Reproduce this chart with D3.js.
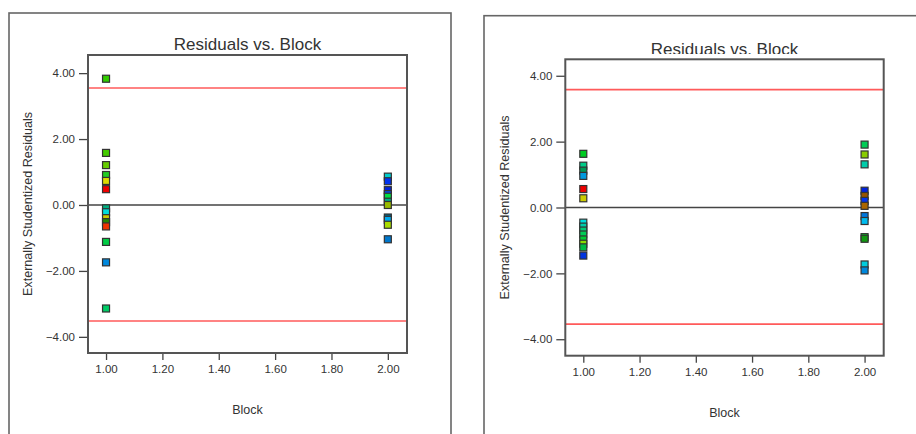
<!DOCTYPE html>
<html>
<head>
<meta charset="utf-8">
<script src="https://cdn.jsdelivr.net/npm/d3@7"></script>
<style>
  body { margin: 0; background: #fff; }
  svg { display: block; font-family: "Liberation Sans", Arial, sans-serif; }
  .axis text { fill: #333; font-size: 11.5px; }
  .axis line { stroke: #444; stroke-width: 1.3; }
</style>
</head>
<body>
<script>
// block numbers and tick values
var blocks = [1, 2];
var xTicks = [1.0, 1.2, 1.4, 1.6, 1.8, 2.0];
var yTicks = [-4, -2, 0, 2, 4];

// left chart: residuals per block
var leftB1 = [3.83, 1.58, 1.21, 0.91, 0.73, 0.48, -0.10, -0.22, -0.40, -0.52, -0.65, -1.12, -1.74, -3.14];
var leftB2 = [0.86, 0.72, 0.45, 0.33, 0.25, 0.10, 0.00, -0.38, -0.45, -0.60, -1.04];
var leftLimits = [3.55, -3.52];

// right chart
var rightB1 = [1.63, 1.27, 1.12, 0.96, 0.56, 0.28, -0.46, -0.58, -0.70, -0.82, -0.97, -1.10, -1.21, -1.46];
var rightB2 = [1.91, 1.61, 1.31, 0.51, 0.35, 0.20, 0.05, -0.26, -0.41, -0.90, -0.95, -1.73, -1.91];
var rightLimits = [3.58, -3.54];

// point colours (kept apart from the values)
var leftC1 = ["#33cc00","#44cc00","#66cc00","#22cc22","#dddd00","#ee0000","#00b080","#00dddd","#cccc00","#228800","#ee3300","#00cc44","#0088dd","#00cc66"];
var leftC2 = ["#00cccc","#0033ee","#0022dd","#0044ee","#00dd44","#00aa88","#99bb00","#006688","#00aaee","#aadd00","#0077cc"];
var rightC1 = ["#00cc22","#00cc88","#009955","#0099dd","#ee0000","#cccc00","#00dddd","#00ccaa","#00cc77","#00cc55","#00cc33","#88dd00","#00bb44","#0033dd"];
var rightC2 = ["#00cc55","#88cc00","#00ccaa","#0022dd","#995500","#0033ee","#aa6600","#0077dd","#00bbee","#00cc22","#119911","#00ccdd","#0088dd"];

var svg = d3.select("body").append("svg").attr("width", 916).attr("height", 434);

function panel(cfg, b1, b2, c1, c2, limits) {
  var g = svg.append("g");

  // outer frame
  g.append("rect")
    .attr("x", cfg.fx).attr("y", cfg.fy).attr("width", cfg.fw).attr("height", 500)
    .attr("fill", "none").attr("stroke", "#666").attr("stroke-width", 1.6);

  var x = d3.scaleLinear().domain([0.936, 2.068]).range([cfg.px, cfg.px + cfg.pw]);
  var y = d3.scaleLinear().domain(cfg.yDom).range([cfg.py + cfg.ph, cfg.py]);

  // title (right one gets cut by the plot box in the original)
  var clipId = "clip" + cfg.id;
  g.append("clipPath").attr("id", clipId).append("rect")
    .attr("x", cfg.fx).attr("y", 0).attr("width", cfg.fw).attr("height", cfg.titleClip);
  g.append("text")
    .attr("clip-path", "url(#" + clipId + ")")
    .attr("x", cfg.px + cfg.pw / 2).attr("y", cfg.titleY)
    .attr("text-anchor", "middle").attr("font-size", "17px").attr("fill", "#333")
    .text("Residuals vs. Block");

  // axes
  var yAxis = d3.axisLeft(y).tickValues(yTicks).tickSize(9).tickPadding(4).tickFormat(d3.format(".2f"));
  var xAxis = d3.axisBottom(x).tickValues(xTicks).tickSize(7).tickPadding(5).tickFormat(d3.format(".2f"));

  var ya = g.append("g").attr("class", "axis").attr("transform", "translate(" + cfg.px + ",0)").call(yAxis);
  ya.select(".domain").remove();
  ya.selectAll("text").attr("font-size", null);
  var xa = g.append("g").attr("class", "axis").attr("transform", "translate(0," + (cfg.py + cfg.ph) + ")").call(xAxis);
  xa.select(".domain").remove();
  xa.selectAll("text").attr("font-size", null);

  // zero line and limit lines
  g.append("line")
    .attr("x1", cfg.px).attr("x2", cfg.px + cfg.pw).attr("y1", y(0)).attr("y2", y(0))
    .attr("stroke", "#444").attr("stroke-width", 1.3);
  g.selectAll("line.limit").data(limits).enter().append("line")
    .attr("class", "limit")
    .attr("x1", cfg.px).attr("x2", cfg.px + cfg.pw)
    .attr("y1", function(d) { return y(d); }).attr("y2", function(d) { return y(d); })
    .attr("stroke", "#ff5a5a").attr("stroke-width", 1.6);

  // plot box
  g.append("rect")
    .attr("x", cfg.px).attr("y", cfg.py).attr("width", cfg.pw).attr("height", cfg.ph)
    .attr("fill", "none").attr("stroke", "#555").attr("stroke-width", 2);

  // points
  var pts = [];
  b1.forEach(function(v, i) { pts.push({ b: blocks[0], v: v, c: c1[i] }); });
  b2.forEach(function(v, i) { pts.push({ b: blocks[1], v: v, c: c2[i] }); });
  g.selectAll("rect.pt").data(pts).enter().append("rect")
    .attr("class", "pt")
    .attr("x", function(d) { return x(d.b) - 3.5; })
    .attr("y", function(d) { return y(d.v) - 3.5; })
    .attr("width", 7).attr("height", 7)
    .attr("fill", function(d) { return d.c; })
    .attr("stroke", "#333").attr("stroke-width", 1.2);

  // axis titles
  g.append("text")
    .attr("transform", "translate(" + cfg.ylX + "," + (cfg.py + cfg.ph / 2) + ") rotate(-90)")
    .attr("text-anchor", "middle").attr("font-size", "12.6px").attr("fill", "#333")
    .text("Externally Studentized Residuals");
  g.append("text")
    .attr("x", cfg.px + cfg.pw / 2).attr("y", cfg.xlY)
    .attr("text-anchor", "middle").attr("font-size", "12.5px").attr("fill", "#333")
    .text("Block");
}

panel({ id: "L", fx: 9, fy: 13, fw: 442, px: 88, py: 55, pw: 319, ph: 298,
        yDom: [-4.49, 4.55], titleY: 50, titleClip: 60, ylX: 32, xlY: 414 },
      leftB1, leftB2, leftC1, leftC2, leftLimits);

panel({ id: "R", fx: 484, fy: 15.7, fw: 480, px: 565.3, py: 59.3, pw: 318.4, ph: 296.4,
        yDom: [-4.5, 4.5], titleY: 55, titleClip: 54, ylX: 509, xlY: 416.7 },
      rightB1, rightB2, rightC1, rightC2, rightLimits);
</script>
</body>
</html>
